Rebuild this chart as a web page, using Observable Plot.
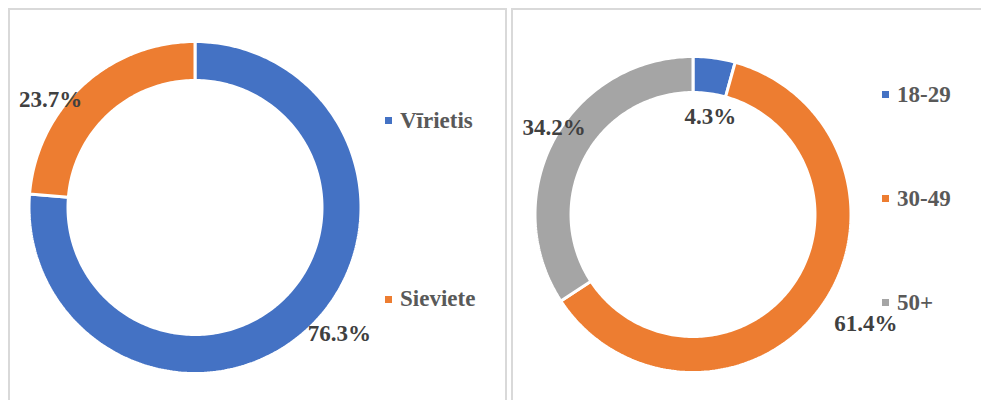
<!DOCTYPE html>
<html>
<head>
<meta charset="utf-8">
<script src="https://cdn.jsdelivr.net/npm/d3@7"></script>
<script src="https://cdn.jsdelivr.net/npm/@observablehq/plot@0.6"></script>
<style>
  body { margin: 0; background: #fff; }
  #wrap { position: relative; width: 981px; height: 400px; overflow: hidden; background: #fff;
          font-family: "Liberation Serif", "Times New Roman", serif; }
  .panel { position: absolute; border: 2px solid #d9d9d9; box-sizing: border-box; }
  .plot { position: absolute; top: 0; }
  .plot svg { background: transparent !important; display: block; }
  .plot svg text { font-family: "Liberation Serif", "Times New Roman", serif !important; }
  .leg { position: absolute; display: flex; align-items: center; height: 26px;
         font-size: 23px; font-weight: bold; color: #595959; white-space: nowrap; }
  .leg i { display: inline-block; width: 7px; height: 7px; margin-right: 8px; }
</style>
</head>
<body>
<div id="wrap"></div>
<script>
// ---- data ----
const genderCategories = ["Vīrietis", "Sieviete"];
const genderValues = [76.3, 23.7];
const ageCategories = ["18-29", "30-49", "50+"];
const ageValues = [4.3, 61.4, 34.2];

// ---- styles / layout ----
const genderColors = ["#4472C4", "#ED7D31"];
const ageColors = ["#4472C4", "#ED7D31", "#A5A5A5"];
const labelColor = "#404040";
const fontFamily = "Liberation Serif";

const wrap = document.getElementById("wrap");

function panel(left, top, width, height) {
  const p = document.createElement("div");
  p.className = "panel";
  Object.assign(p.style, {left: left + "px", top: top + "px", width: width + "px", height: height + "px"});
  wrap.appendChild(p);
}
panel(8, 8, 499, 410);
panel(511, 8, 490, 410);

function donut({categories, values, colors, left, width, cx, cy, R, inner, labelPlace}) {
  const total = d3.sum(values);
  const rows = [];
  const labels = [];
  let acc = 0;
  categories.forEach((c, i) => {
    const a0 = acc / total * 2 * Math.PI;
    acc += values[i];
    const a1 = acc / total * 2 * Math.PI;
    const n = Math.max(2, Math.ceil((a1 - a0) / (2 * Math.PI) * 360));
    for (let k = 0; k <= n; k++) rows.push({cat: c, a: a0 + (a1 - a0) * k / n});
    const lp = labelPlace[i];
    const am = (a0 + a1) / 2 + lp.da * Math.PI / 180;
    labels.push({cat: c, text: values[i].toFixed(1) + "%", x: lp.r * Math.sin(am), y: lp.r * Math.cos(am)});
  });

  const chart = Plot.plot({
    width, height: 400,
    margin: 0,
    style: {background: "transparent", overflow: "visible"},
    x: {domain: [-1, 1], range: [cx - R, cx + R], axis: null},
    y: {domain: [-1, 1], range: [cy + R, cy - R], axis: null},
    color: {domain: categories, range: colors},
    marks: [
      Plot.area(rows, {
        x1: d => Math.sin(d.a), y1: d => Math.cos(d.a),
        x2: d => inner * Math.sin(d.a), y2: d => inner * Math.cos(d.a),
        z: "cat", fill: "cat", stroke: "white", strokeWidth: 3, strokeLinejoin: "miter",
        curve: "linear"
      }),
      Plot.text(labels, {
        x: "x", y: "y", text: "text", fill: labelColor, fontSize: 23, fontWeight: "bold",
        fontFamily, textAnchor: "middle", lineAnchor: "middle"
      })
    ]
  });
  const holder = document.createElement("div");
  holder.className = "plot";
  holder.style.left = left + "px";
  holder.appendChild(chart);
  wrap.appendChild(holder);
}

donut({
  categories: genderCategories, values: genderValues, colors: genderColors,
  left: 0, width: 506, cx: 195, cy: 207.5, R: 166, inner: 0.765,
  labelPlace: [{r: 1.15, da: -6.2}, {r: 1.09, da: -10.5}]
});
donut({
  categories: ageCategories, values: ageValues, colors: ageColors,
  left: 508, width: 473, cx: 185, cy: 214.5, R: 158, inner: 0.772,
  labelPlace: [{r: 0.63, da: 2}, {r: 1.29, da: -3.9}, {r: 1.04, da: 3.6}]
});

function legend(categories, colors, left, centers) {
  categories.forEach((c, i) => {
    const d = document.createElement("div");
    d.className = "leg";
    d.style.left = left + "px";
    d.style.top = (centers[i] - 13) + "px";
    const sq = document.createElement("i");
    sq.style.background = colors[i];
    d.appendChild(sq);
    d.appendChild(document.createTextNode(c));
    wrap.appendChild(d);
  });
}
legend(genderCategories, genderColors, 385, [120.5, 299]);
legend(ageCategories, ageColors, 882, [94.5, 198.5, 302.5]);
</script>
</body>
</html>
